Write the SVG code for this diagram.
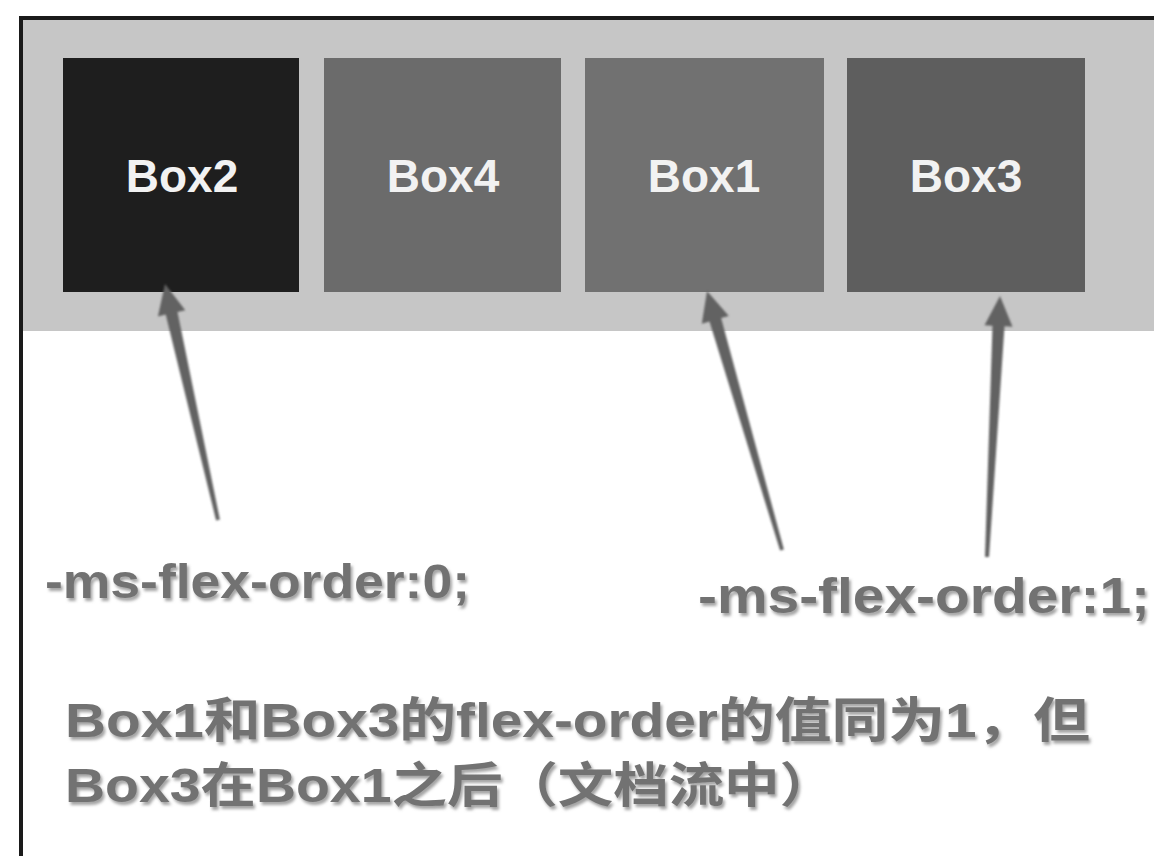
<svg xmlns="http://www.w3.org/2000/svg" width="1154" height="856" viewBox="0 0 1154 856">
<defs>
<filter id="sh" x="-5%" y="-20%" width="110%" height="150%">
<feDropShadow dx="2" dy="3" stdDeviation="1.5" flood-color="#9a9a9a" flood-opacity="0.9"/>
</filter>
<filter id="soft"><feGaussianBlur stdDeviation="0.8"/></filter>
<style>
.box{stroke:none}
.lbl{font-family:"Liberation Sans",Arial,sans-serif;font-weight:bold;font-size:46px;fill:#f2f2f2;text-anchor:middle}
.note{font-family:"Liberation Sans","Noto Sans CJK SC",sans-serif;font-weight:bold;fill:#727272;filter:url(#sh)}
.arr{fill:#626262;filter:url(#soft)}
</style>
</defs>
<rect x="0" y="0" width="1154" height="856" fill="#ffffff"/>
<rect x="21" y="18" width="1140" height="313" fill="#c6c6c6"/>
<path d="M21,860 V18 H1154" fill="none" stroke="#1a1a1a" stroke-width="4"/>
<g id="box2"><rect class="box" x="63" y="58" width="236" height="234" fill="#1e1e1e"/><text class="lbl" x="182" y="192">Box2</text></g>
<g id="box4"><rect class="box" x="324" y="58" width="237" height="234" fill="#6b6b6b"/><text class="lbl" x="443" y="192">Box4</text></g>
<g id="box1"><rect class="box" x="585" y="58" width="239" height="234" fill="#717171"/><text class="lbl" x="704" y="192">Box1</text></g>
<g id="box3"><rect class="box" x="847" y="58" width="238" height="234" fill="#5e5e5e"/><text class="lbl" x="966" y="192">Box3</text></g>
<g id="connectors">
<polygon class="arr" points="219.9,519.6 177.5,312.0 185.3,310.2 165,284 157.9,316.4 165.7,314.6 216.1,520.4"/>
<polygon class="arr" points="783.9,549.4 721.1,318.1 728.8,315.9 707,291 701.8,323.7 709.5,321.5 780.1,550.6"/>
<polygon class="arr" points="989.0,557.1 1004.5,326.3 1012.5,326.7 1000,296 984.5,325.3 992.5,325.7 985.0,556.9"/>
</g>
<g id="label0"><text class="note" x="45" y="598" font-size="48" textLength="425" lengthAdjust="spacingAndGlyphs">-ms-flex-order:0;</text></g>
<g id="label1"><text class="note" x="698" y="613" font-size="50" textLength="452" lengthAdjust="spacingAndGlyphs">-ms-flex-order:1;</text></g>
<g id="caption">
<text class="note" x="65" y="737" font-size="48" textLength="1025" lengthAdjust="spacingAndGlyphs">Box1和Box3的flex-order的值同为1，但</text>
<text class="note" x="65" y="802" font-size="48" textLength="770" lengthAdjust="spacingAndGlyphs">Box3在Box1之后（文档流中）</text>
</g>
</svg>
